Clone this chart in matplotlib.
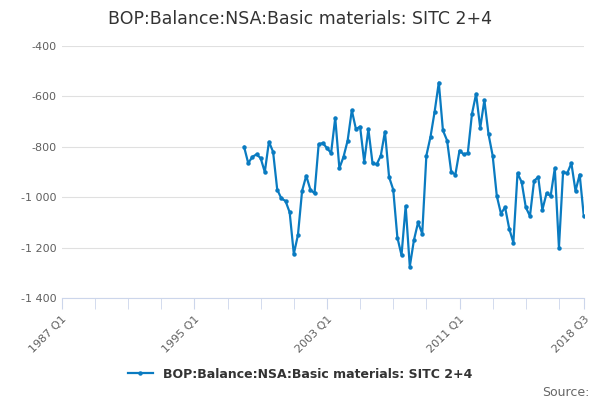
import matplotlib
matplotlib.use('Agg')
import matplotlib.pyplot as plt
from matplotlib.ticker import FuncFormatter

# quarters indexed from 1987 Q1 = 0
start_idx = 44  # 1998 Q1
values = [-800, -865, -840, -830, -845, -900, -780, -820,
          -970, -1005, -1015, -1060, -1225, -1150, -975, -915,
          -970, -985, -790, -785, -805, -825, -685, -885,
          -840, -775, -655, -730, -720, -860, -730, -865,
          -870, -835, -740, -920, -970, -1160, -1230, -1035,
          -1275, -1170, -1100, -1145, -835, -760, -660, -545,
          -735, -775, -900, -910, -815, -830, -825, -670,
          -590, -725, -615, -750, -835, -995, -1065, -1040,
          -1125, -1180, -905, -940, -1040, -1075, -935, -920,
          -1050, -985, -995, -885, -1200, -900, -905, -865,
          -975, -910, -1075]
tick_pos = [0, 32, 64, 96, 126]
tick_labels = ['1987 Q1', '1995 Q1', '2003 Q1', '2011 Q1', '2018 Q3']
label = 'BOP:Balance:NSA:Basic materials: SITC 2+4'

x = list(range(start_idx, start_idx + len(values)))
color = '#0a7bc1'

fig = plt.figure(figsize=(6, 4), dpi=100)
ax = fig.add_axes([0.103, 0.255, 0.87, 0.63])
ax.plot(x, values, color=color, lw=1.6, marker='o', ms=2.2, label=label)
ax.set_xlim(0, 126)
ax.set_ylim(-1400, -400)
ax.set_yticks(range(-1400, -399, 200))
ax.yaxis.set_major_formatter(FuncFormatter(lambda v, p: f'{int(v):,}'.replace(',', ' ')))
ax.set_xticks(tick_pos)
ax.set_xticklabels(tick_labels, rotation=45, ha='right', rotation_mode='anchor')
ax.set_xticks(range(0, 127, 8), minor=True)
ax.grid(axis='y', color='#e0e0e0', lw=0.8)
for s in ['top', 'right', 'left']:
    ax.spines[s].set_visible(False)
ax.spines['bottom'].set_color('#ccd6eb')
ax.tick_params(axis='y', length=0, colors='#606060', labelsize=8)
ax.tick_params(axis='x', which='both', length=8, color='#ccd6eb', colors='#606060', labelsize=8)
ax.set_axisbelow(True)
fig.suptitle(label, y=0.975, fontsize=12.5, color='#333333')
fig.legend(loc='lower center', bbox_to_anchor=(0.5, 0.02), frameon=False,
           prop={'size': 9, 'weight': 'bold'}, labelcolor='#333333', handlelength=2)
fig.text(0.982, 0.01, 'Source:', ha='right', fontsize=9, color='#666666')
fig.savefig('out.png')
